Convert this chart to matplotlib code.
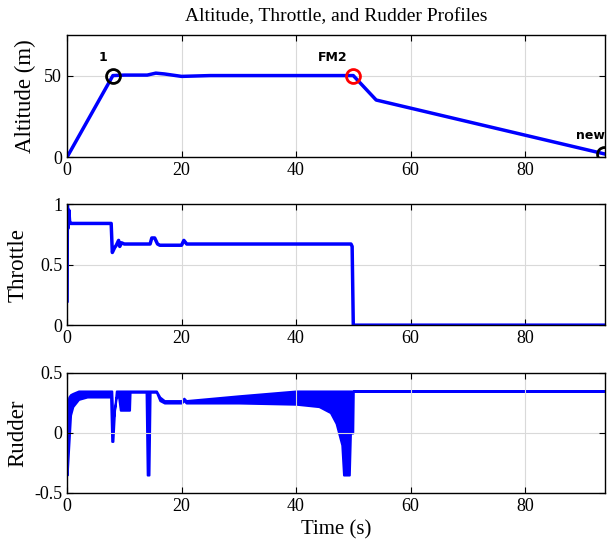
import matplotlib
matplotlib.use('Agg')
import matplotlib.pyplot as plt

plt.rcParams['font.family'] = ['Liberation Serif', 'DejaVu Serif']

# altitude profile
alt_t = [0, 8, 10, 14, 15.5, 17, 20, 25, 50, 54, 93.8]
alt_v = [0, 50, 50.3, 50.3, 51.5, 51, 49.5, 50, 50, 35, 2]

# waypoints
wp_name = ['1', 'FM2', 'new']
wp_t = [8, 50, 93.8]
wp_v = [50, 50, 2]
wp_col = ['black', 'red', 'black']

# throttle
thr_t = [0, 0.05, 0.15, 0.3, 0.45, 0.6, 1.0, 7.7, 7.9, 8.3, 8.6, 9.0, 9.2, 9.5, 10, 14.5, 14.8, 15.3, 15.8, 16.2, 20.0, 20.4, 20.9, 21.5, 49.6, 49.8, 50.0, 93.8]
thr_v = [0.2, 1.0, 0.8, 0.95, 0.85, 0.84, 0.84, 0.84, 0.6, 0.64, 0.66, 0.7, 0.65, 0.68, 0.67, 0.67, 0.72, 0.72, 0.67, 0.66, 0.66, 0.7, 0.67, 0.67, 0.67, 0.65, 0.0, 0.0]

# rudder (oscillation envelope)
rud_t = [0, 0.3, 0.6, 1.0, 2.0, 3.5, 7.6, 7.8, 8.0, 8.3, 8.6, 9.0, 9.3, 10.9, 11.0, 13.8, 14.0, 14.3, 14.5, 15.6, 16.2, 17.0, 20.0, 20.4, 20.8, 30, 40, 44, 46, 47, 48, 48.3, 49.3, 49.5, 49.9, 50, 93.8]
rud_hi = [0.22, 0.30, 0.32, 0.33, 0.35, 0.35, 0.35, 0.35, 0.10, 0.20, 0.35, 0.35, 0.35, 0.35, 0.35, 0.35, 0.35, 0.35, 0.35, 0.35, 0.30, 0.27, 0.27, 0.29, 0.27, 0.31, 0.35, 0.35, 0.35, 0.35, 0.35, 0.35, 0.35, 0.35, 0.35, 0.35, 0.35]
rud_lo = [-0.35, -0.10, 0.15, 0.22, 0.28, 0.30, 0.30, -0.07, -0.07, 0.20, 0.30, 0.30, 0.19, 0.19, 0.34, 0.34, -0.35, -0.35, 0.34, 0.34, 0.27, 0.25, 0.25, 0.27, 0.25, 0.25, 0.24, 0.22, 0.17, 0.08, -0.10, -0.35, -0.35, 0.0, 0.0, 0.35, 0.35]

fig = plt.figure(figsize=(6.1, 5.53), dpi=100)
ax1 = fig.add_axes([0.110, 0.716, 0.882, 0.221])
ax2 = fig.add_axes([0.110, 0.412, 0.882, 0.219])
ax3 = fig.add_axes([0.110, 0.1085, 0.882, 0.217])

ax1.plot(alt_t, alt_v, color='blue', lw=2.5)
for n, t, v, c in zip(wp_name, wp_t, wp_v, wp_col):
    ax1.plot(t, v, 'o', ms=10, mfc='none', mec=c, mew=2, zorder=5)
ax1.text(6.3, 59, '1', family='DejaVu Sans', fontweight='bold', fontsize=9, ha='center')
ax1.text(46.4, 59, 'FM2', family='DejaVu Sans', fontweight='bold', fontsize=9, ha='center')
ax1.text(91.4, 11, 'new', family='DejaVu Sans', fontweight='bold', fontsize=9, ha='center')
ax1.set_ylim(0, 75)
ax1.set_yticks([0, 50])
ax1.set_ylabel('Altitude (m)', fontsize=16.5)
ax1.yaxis.set_label_coords(-0.058, 0.5)
ax1.set_title('Altitude, Throttle, and Rudder Profiles', fontsize=14, pad=10)

ax2.plot(thr_t, thr_v, color='blue', lw=2.5)
ax2.set_ylim(0, 1)
ax2.set_yticks([0, 0.5, 1])
ax2.set_yticklabels(['0', '0.5', '1'])
ax2.set_ylabel('Throttle', fontsize=16.5)
ax2.yaxis.set_label_coords(-0.071, 0.5)

ax3.fill_between(rud_t, rud_lo, rud_hi, color='blue', lw=1.5, edgecolor='blue')
ax3.set_ylim(-0.5, 0.5)
ax3.set_yticks([-0.5, 0, 0.5])
ax3.set_yticklabels(['-0.5', '0', '0.5'])
ax3.set_ylabel('Rudder', fontsize=16.5)
ax3.yaxis.set_label_coords(-0.073, 0.5)
ax3.set_xlabel('Time (s)', fontsize=15)

for ax in (ax1, ax2, ax3):
    ax.set_xlim(0, 94)
    ax.set_xticks([0, 20, 40, 60, 80])
    ax.grid(True, color='#d9d9d9', lw=0.8)
    ax.tick_params(direction='in', top=True, right=True, labelsize=13, length=4)
    for s in ax.spines.values():
        s.set_linewidth(1.0)

fig.savefig('out.png', dpi=100)
